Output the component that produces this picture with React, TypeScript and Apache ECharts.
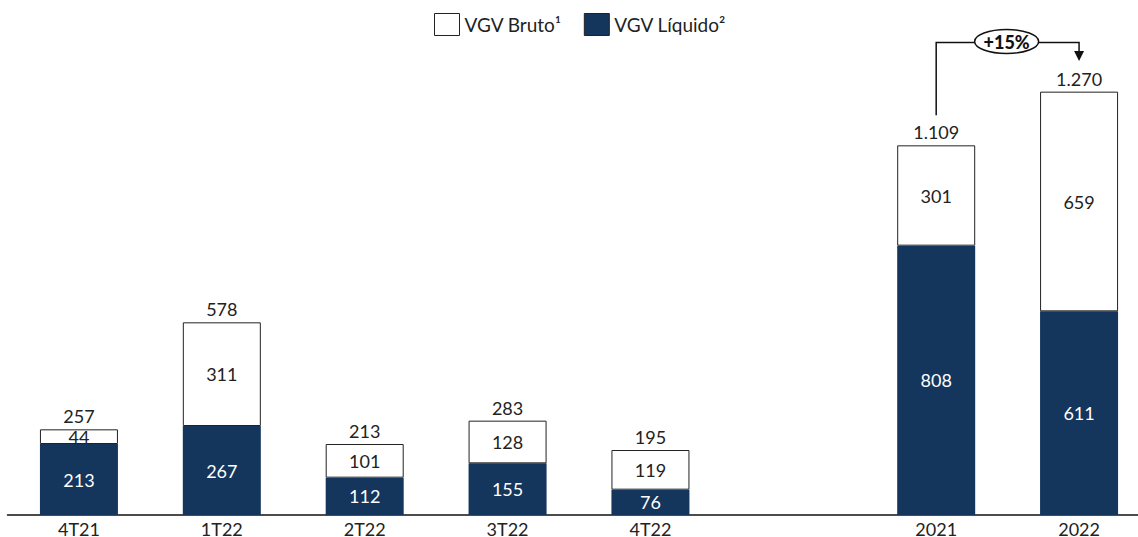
import React, { useEffect, useRef } from "react";
import * as echarts from "echarts";

const categories = ["4T21", "1T22", "2T22", "3T22", "4T22", "", "2021", "2022"];
const liquido = [213, 267, 112, 155, 76, null, 808, 611];
const bruto = [44, 311, 101, 128, 119, null, 301, 659];
const totals = [257, 578, 213, 283, 195, null, 1109, 1270];
const growthLabel = "+15%";

const NAVY = "#14355c";
const FONT = "Lato";

const fmt = (v: number) => String(v).replace(/\B(?=(\d{3})+(?!\d))/g, ".");

export default function App() {
  const ref = useRef<HTMLDivElement>(null);
  useEffect(() => {
    document.body.style.margin = "0";
    const chart = echarts.init(ref.current!, null, { renderer: "svg" });
    chart.setOption({
      animation: false,
      textStyle: { fontFamily: FONT },
      legend: {
        top: 8,
        left: 429,
        data: ["VGV Bruto¹", "VGV Líquido²"],
        itemWidth: 25,
        itemHeight: 22,
        itemGap: 22,
        itemStyle: { borderWidth: 1, borderColor: "#222" },
        textStyle: { fontSize: 19, color: "#222", fontFamily: FONT },
        icon: "rect",
      },
      grid: { left: 7.5, right: -12.5, top: 15, bottom: 22, containLabel: false, outerBoundsMode: "none" },
      xAxis: {
        type: "category",
        data: categories,
        axisTick: { show: false },
        axisLine: { lineStyle: { color: "#111", width: 1.5 } },
        axisLabel: { fontSize: 18, color: "#222", margin: 5, fontFamily: FONT },
      },
      yAxis: { type: "value", min: 0, max: 1500, show: false, splitLine: { show: false } },
      series: [
        {
          name: "VGV Líquido²",
          type: "bar",
          stack: "a",
          data: liquido,
          barWidth: 78,
          itemStyle: { color: NAVY },
          label: { show: true, position: "inside", color: "#fff", fontSize: 18, fontFamily: FONT },
        },
        {
          name: "VGV Bruto¹",
          type: "bar",
          stack: "a",
          data: bruto,
          barWidth: 78,
          itemStyle: { color: "#fff", borderColor: "#222", borderWidth: 1 },
          label: { show: true, position: "inside", color: "#222", fontSize: 18, fontFamily: FONT },
        },
        {
          name: "total",
          type: "bar",
          stack: "a",
          data: totals.map((t) => (t == null ? null : 0)),
          barWidth: 78,
          itemStyle: { color: "transparent" },
          label: {
            show: true,
            position: "top",
            distance: 4,
            color: "#222",
            fontSize: 18,
            fontFamily: FONT,
            formatter: (p: any) => (totals[p.dataIndex] == null ? "" : fmt(totals[p.dataIndex] as number)),
          },
        },
      ],
    });

    const i1 = 6, i2 = 7;
    const [x1, y1] = chart.convertToPixel({ seriesIndex: 0 }, [i1, totals[i1]]) as number[];
    const [x2] = chart.convertToPixel({ seriesIndex: 0 }, [i2, totals[i2]]) as number[];
    const yLevel = 42.5;
    const yStart = y1 - 30;
    const midX = (x1 + x2) / 2;
    chart.setOption({
      graphic: [
        {
          type: "polyline",
          shape: { points: [[x1, yStart], [x1, yLevel], [x2, yLevel], [x2, 52]] },
          style: { stroke: "#111", lineWidth: 1.5, fill: null },
          z: 10,
        },
        {
          type: "polygon",
          shape: { points: [[x2 - 5, 51], [x2 + 5, 51], [x2, 61]] },
          style: { fill: "#111" },
          z: 10,
        },
        {
          type: "ellipse",
          shape: { cx: midX - 1, cy: 41.5, rx: 32, ry: 12 },
          style: { fill: "#fff", stroke: "#111", lineWidth: 1.5 },
          z: 11,
        },
        {
          type: "text",
          x: midX - 1,
          y: 42,
          style: {
            text: growthLabel,
            fill: "#111",
            font: `900 18px ${FONT}`,
            align: "center",
            verticalAlign: "middle",
          },
          z: 12,
        },
      ],
    });
    return () => chart.dispose();
  }, []);
  return <div ref={ref} style={{ width: 1138, height: 537 }} />;
}
